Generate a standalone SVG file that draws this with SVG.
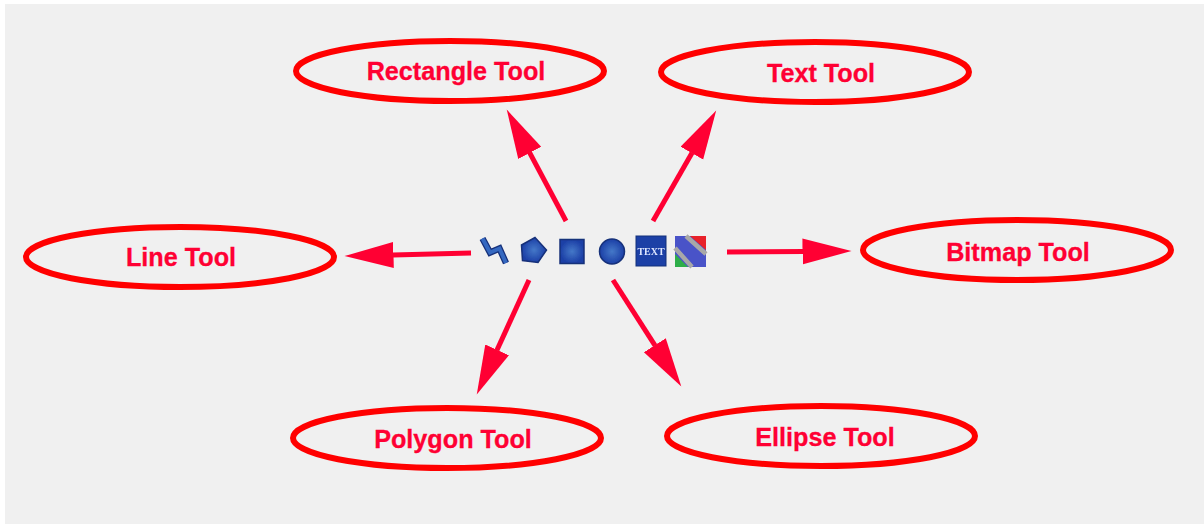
<svg xmlns="http://www.w3.org/2000/svg" width="1204" height="524" viewBox="0 0 1204 524">
<style>
.oval{fill:none;stroke:#ff0000;stroke-width:6}
.lbl{font-family:"Liberation Sans",Arial,sans-serif;font-weight:700;font-size:25.2px;fill:#ff0033;stroke:#ff0033;stroke-width:0.3;text-anchor:middle}
.arrow{fill:none;stroke:#ff0033;stroke-width:5;marker-end:url(#head)}
.blue{fill:url(#glow);stroke:#17307a;stroke-width:1.5}
</style>
<defs>
<marker id="head" markerUnits="userSpaceOnUse" markerWidth="52" markerHeight="32" refX="0.500" refY="13" orient="auto">
<path d="M0 0L49 13L0 26z" fill="#ff0033"/>
</marker>
<radialGradient id="glow"><stop offset="0" stop-color="#4478c8"/><stop offset="1" stop-color="#1c3fa6"/></radialGradient>
<filter id="soft" x="-5%" y="-20%" width="110%" height="140%"><feGaussianBlur stdDeviation="0.45"/></filter>
</defs>
<rect width="1204" height="524" fill="#ffffff"/>
<rect x="5" y="4" width="1199" height="520" fill="#f0f0f0"/>
<g id="connectors">
<path class="arrow" d="M566 221L529.500 152.400"/>
<path class="arrow" d="M653 221L692.100 152.700"/>
<path class="arrow" d="M471 253L393 254.900"/>
<path class="arrow" d="M727 252L803 251.400"/>
<path class="arrow" d="M529 280L496.900 350.300"/>
<path class="arrow" d="M613 280L655.100 345.600"/>
</g>
<g id="toolbar" filter="url(#soft)">
<path d="M482.500 238.500L490 252.500L499.500 248.500L506 263" fill="none" stroke="#17307a" stroke-width="6.500"/>
<path d="M482.500 238.500L490 252.500L499.500 248.500L506 263" fill="none" stroke="#3468c0" stroke-width="4"/>
<path class="blue" d="M535 237.500L546.500 250L538 262.500L522.500 260.500L521.500 245z"/>
<rect class="blue" x="560" y="239.500" width="24" height="24"/>
<circle class="blue" cx="612" cy="251.500" r="12.500"/>
<rect x="636" y="236" width="30" height="30" fill="#1c3fa6" stroke="#17307a"/>
<text x="651" y="255" font-family="Liberation Serif,serif" font-size="10" font-weight="700" fill="#dfe8ff" text-anchor="middle">TEXT</text>
<rect x="675" y="236" width="31" height="31" fill="#4a52c8"/>
<path d="M690 236L706 236L706 250z" fill="#e8202a"/>
<path d="M675 254L675 267L688 267z" fill="#2fae4a"/>
<path d="M686 236L706 254M675 248L692 267" stroke="#a8a8a8" stroke-width="4.500" fill="none"/>
</g>
<g id="rectangle-tool"><ellipse class="oval" cx="450" cy="71" rx="154" ry="30"/><text class="lbl" x="456" y="79.500">Rectangle Tool</text></g>
<g id="text-tool"><ellipse class="oval" cx="815" cy="72" rx="154" ry="30"/><text class="lbl" x="821" y="81.500">Text Tool</text></g>
<g id="bitmap-tool"><ellipse class="oval" cx="1017" cy="250" rx="154" ry="30"/><text class="lbl" x="1018" y="260.500">Bitmap Tool</text></g>
<g id="line-tool"><ellipse class="oval" cx="180" cy="257" rx="154" ry="30"/><text class="lbl" x="181" y="265.500">Line Tool</text></g>
<g id="polygon-tool"><ellipse class="oval" cx="447" cy="438" rx="154" ry="30"/><text class="lbl" x="453" y="447.500">Polygon Tool</text></g>
<g id="ellipse-tool"><ellipse class="oval" cx="821" cy="436" rx="154" ry="30"/><text class="lbl" x="825" y="445.500">Ellipse Tool</text></g>
</svg>
